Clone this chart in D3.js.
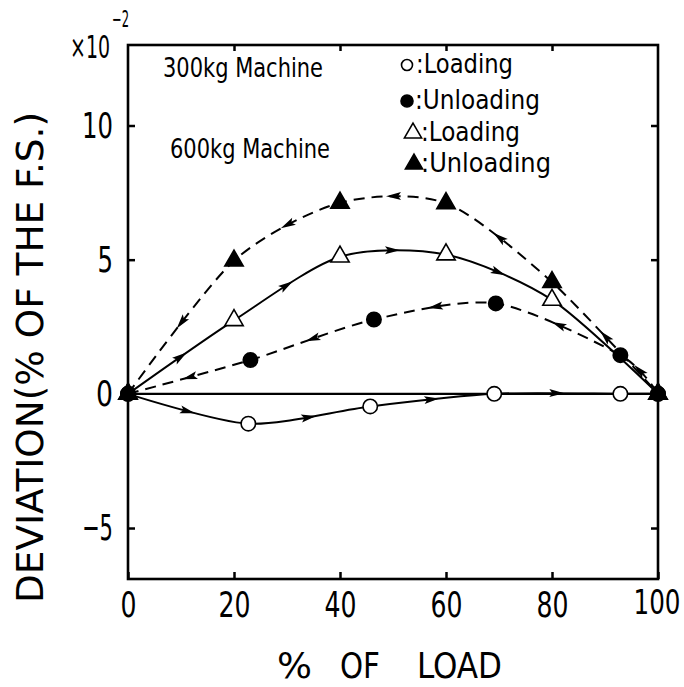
<!DOCTYPE html>
<html><head><meta charset="utf-8">
<script src="https://cdn.jsdelivr.net/npm/d3@7"></script>
<style>
body{margin:0;background:#fff}
svg text{font-family:"DejaVu Sans Condensed","DejaVu Sans",sans-serif;fill:#000}
</style></head><body>
<svg id="c" width="684" height="687"></svg>
<script>
// ---- data ----
const xTicks = [0, 20, 40, 60, 80, 100];
const yTicks = [-5, 0, 5, 10];
const yTickLabels = ["\u22125", "0", "5", "10"];
const load300X   = [0, 22.7, 45.7, 69.1, 92.9, 100];
const load300Y   = [0, -1.11, -0.47, 0, 0, 0];
const unload300X = [0, 23.1, 46.4, 69.4, 92.9, 100];
const unload300Y = [0, 1.26, 2.77, 3.37, 1.44, 0];
const load600X   = [0, 20, 40, 60, 80, 100];
const load600Y   = [0, 2.74, 5.11, 5.19, 3.5, 0];
const unload600X = [0, 20, 40, 60, 80, 100];
const unload600Y = [0, 4.96, 7.12, 7.1, 4.16, 0];
const groupLabels = ["300kg Machine", "600kg Machine"];
const legendLabels = [":Loading", ":Unloading", ":Loading", ":Unloading"];
const xTitleWords = ["%", "OF", "LOAD"];
const yTitle = "DEVIATION(% OF THE F.S.)";

// ---- layout ----
const L = 128, R = 658, T = 45, B = 579;
const x = d3.scaleLinear().domain([0, 100]).range([L, R]);
const y = d3.scaleLinear().domain([-6.9, 13]).range([B, T]);
const svg = d3.select("#c");
function fit(sel, w) { return sel.attr("textLength", w).attr("lengthAdjust", "spacingAndGlyphs"); }

const series = [
  {xs: load300X, ys: load300Y, shape: "circle", filled: false, dashed: false, dir: 1},
  {xs: unload300X, ys: unload300Y, shape: "circle", filled: true, dashed: true, dir: -1},
  {xs: load600X, ys: load600Y, shape: "triangle", filled: false, dashed: false, dir: 1},
  {xs: unload600X, ys: unload600Y, shape: "triangle", filled: true, dashed: true, dir: -1}
];

// zero line
svg.append("line").attr("x1", x(0)).attr("x2", x(100)).attr("y1", y(0)).attr("y2", y(0))
  .attr("stroke", "#000").attr("stroke-width", 2.2);

// axes
const ax = svg.append("g");
ax.append("g").attr("transform", `translate(0,${B})`)
  .call(d3.axisBottom(x).tickValues(xTicks).tickFormat(d3.format("d")).tickSizeInner(-7).tickSizeOuter(0).tickPadding(12))
  .call(g => g.select(".domain").remove())
  .call(g => g.selectAll("text").attr("font-size", 36).each(function () {
    const n = this.textContent.length;
    fit(d3.select(this), n * 16);
    if (n === 3) d3.select(this).attr("font-size", 33).attr("textLength", 47)
      .attr("text-anchor", "end").attr("x", 680 - R);
  }));
ax.append("g").attr("transform", `translate(0,${T})`)
  .call(d3.axisTop(x).tickValues(xTicks.slice(1, -1)).tickFormat("").tickSizeInner(-6).tickSizeOuter(0))
  .call(g => g.select(".domain").remove());
ax.append("g").attr("transform", `translate(${L},0)`)
  .call(d3.axisLeft(y).tickValues(yTicks).tickFormat((d, i) => yTickLabels[i]).tickSizeInner(-7).tickSizeOuter(0).tickPadding(15))
  .call(g => g.select(".domain").remove())
  .call(g => g.selectAll("text").attr("font-size", 36).each(function () {
    fit(d3.select(this), this.textContent.length * 15.5 + (this.textContent === "0" ? 1.5 : 0));
  }));
ax.append("g").attr("transform", `translate(${R},0)`)
  .call(d3.axisRight(y).tickValues(yTicks).tickFormat("").tickSizeInner(-7).tickSizeOuter(0))
  .call(g => g.select(".domain").remove());
ax.selectAll(".tick line").attr("stroke", "#000").attr("stroke-width", 2.5);

// frame
svg.append("rect").attr("x", L).attr("y", T).attr("width", R - L).attr("height", B - T)
  .attr("fill", "none").attr("stroke", "#000").attr("stroke-width", 2.6);

// multiplier
fit(svg.append("text").attr("x", 70).attr("y", 58).attr("font-size", 32).text("\u00d710"), 40);
fit(svg.append("text").attr("x", 112).attr("y", 27).attr("font-size", 23).text("\u22122"), 17);

// curves
const line = d3.line().curve(d3.curveCardinal.tension(0.2)).x(d => x(d[0])).y(d => y(d[1]));
series.forEach(s => {
  const pts = s.xs.map((v, i) => [v, s.ys[i]]);
  const p = svg.append("path").attr("d", line(pts)).attr("fill", "none").attr("stroke", "#000")
    .attr("stroke-width", 2).attr("stroke-dasharray", s.dashed ? "11,7" : null);
  s.path = p.node();
  s.pts = pts;
});

// arrows at segment midpoints
function lengthAtX(node, px) {
  let lo = 0, hi = node.getTotalLength();
  for (let k = 0; k < 40; k++) {
    const m = (lo + hi) / 2;
    if (node.getPointAtLength(m).x < px) lo = m; else hi = m;
  }
  return (lo + hi) / 2;
}
series.forEach(s => {
  const n = s.pts.length;
  for (let i = 0; i < n - 1; i++) {
    if (s.dir === 1 && i === n - 2) continue;
    const mx = x((s.pts[i][0] + s.pts[i + 1][0]) / 2);
    const l = lengthAtX(s.path, mx);
    const a = s.path.getPointAtLength(Math.max(0, l - 2));
    const b = s.path.getPointAtLength(l + 2);
    const c = s.path.getPointAtLength(l);
    let ang = Math.atan2(b.y - a.y, b.x - a.x) * 180 / Math.PI;
    if (s.dir === -1) ang += 180;
    svg.append("path").attr("d", "M7,0 L-8,-4 L-5,0 L-8,4 Z")
      .attr("transform", `translate(${c.x},${c.y}) rotate(${ang})`).attr("fill", "#000");
  }
});

// markers
const tri = d3.symbol().type(d3.symbolTriangle);
function marker(g, shape, filled, cx, cy, size) {
  if (shape === "circle") {
    g.append("circle").attr("cx", cx).attr("cy", cy).attr("r", size)
      .attr("fill", filled ? "#000" : "#fff").attr("stroke", "#000").attr("stroke-width", 1.6);
  } else {
    g.append("path").attr("d", tri.size(size * size * 2.6)()).attr("transform", `translate(${cx},${cy})`)
      .attr("fill", filled ? "#000" : "#fff").attr("stroke", "#000").attr("stroke-width", 1.6);
  }
}
const mg = svg.append("g");
[0, 2, 1, 3].forEach(k => {
  const s = series[k];
  s.pts.forEach(p => marker(mg, s.shape, s.filled, x(p[0]), y(p[1]), s.shape === "circle" ? 7.2 : 7.5));
});

// group labels
fit(svg.append("text").attr("x", 163).attr("y", 77).attr("font-size", 27).text(groupLabels[0]), 160);
fit(svg.append("text").attr("x", 170).attr("y", 158).attr("font-size", 27).text(groupLabels[1]), 160);

// legend
const legRows = [65, 101, 133, 164];
const legMarkerX = [407, 407, 413, 414];
const legTextX = [416, 415, 421, 421];
const legTextW = [97, 125, 99, 130];
const legSize = [5.5, 6, 7, 7];
const leg = svg.append("g");
legendLabels.forEach((t, i) => {
  const s = series[i];
  marker(leg, s.shape, s.filled, legMarkerX[i], legRows[i], legSize[i]);
  fit(leg.append("text").attr("x", legTextX[i]).attr("y", legRows[i] + 8).attr("font-size", 27).text(t), legTextW[i]);
});

// titles
const xtPos = [[277, 35], [340, 40], [417, 85]];
xTitleWords.forEach((w, i) => {
  fit(svg.append("text").attr("x", xtPos[i][0]).attr("y", 678).attr("font-size", 36).text(w), xtPos[i][1]);
});
fit(svg.append("text").attr("transform", "translate(43,603) rotate(-90)")
  .attr("font-size", 37).text(yTitle), 491);
</script>
</body></html>
